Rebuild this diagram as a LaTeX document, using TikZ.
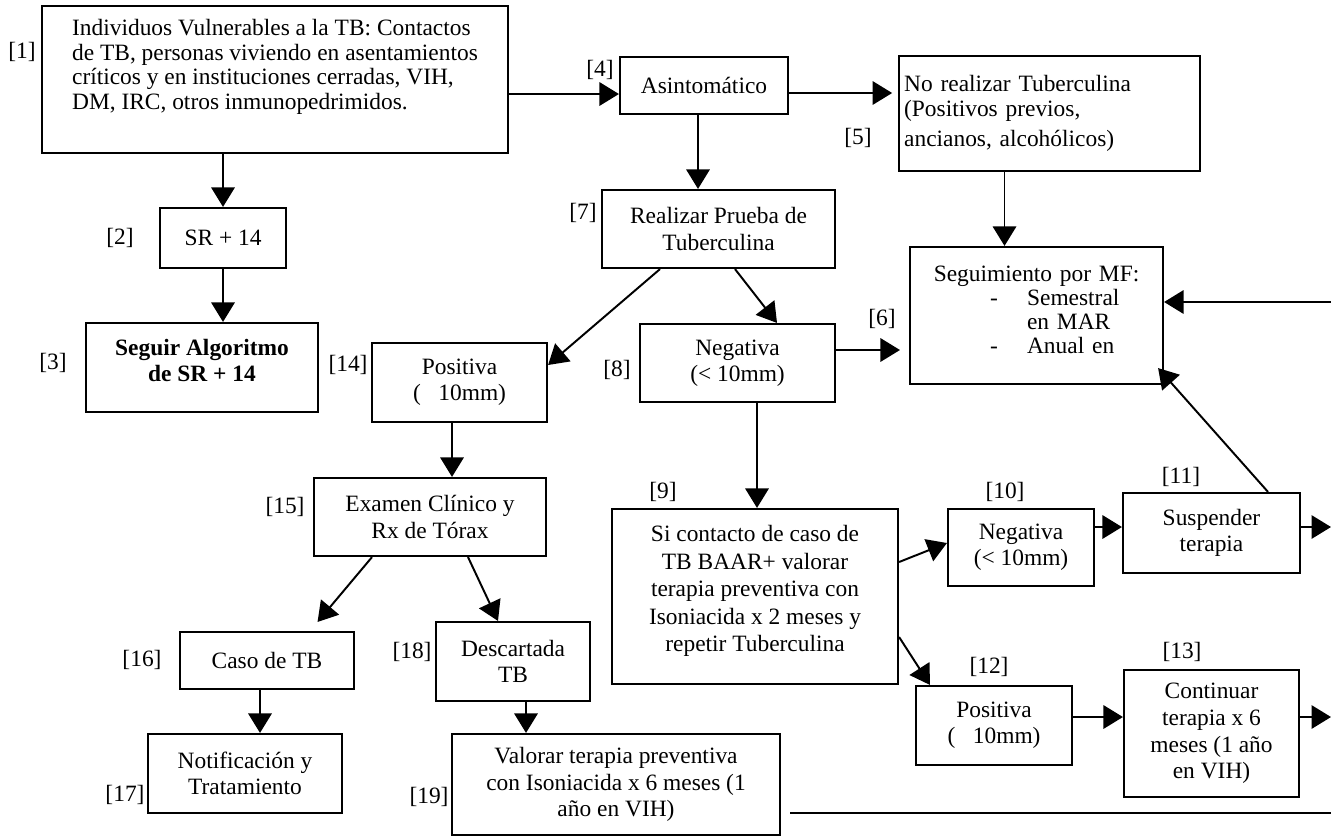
\documentclass[tikz,border=0pt]{standalone}
\usepackage{fontspec}
\setmainfont{Liberation Serif}
\usetikzlibrary{arrows.meta}
\def\pxu{0.5125pt}
\tikzset{
  box/.style={draw, line width=1.1pt, inner sep=0pt, align=center,
    font=\fontsize{12}{13.5}\selectfont},
  lab/.style={inner sep=0pt, font=\fontsize{12}{13.5}\selectfont},
  arr/.style={line width=1pt, -{Triangle[length=10pt,width=12pt]}},
  ln/.style={line width=1pt}
}
\begin{document}
\begin{tikzpicture}[x=0.5125pt, y=-0.5125pt]
\useasboundingbox (0,0) rectangle (1331,838);

% boxes
\node[box, align=left, minimum width=466*\pxu, minimum height=147*\pxu,
  font=\fontsize{12}{12.5}\selectfont] (n1) at (275,79.5)
  {Individuos Vulnerables a la TB: Contactos\\de TB, personas viviendo en asentamientos\\críticos y en instituciones cerradas, VIH,\\DM, IRC, otros inmunopedrimidos.\\[3pt]\mbox{}};
\node[box, minimum width=126*\pxu, minimum height=60*\pxu] (n2) at (223,238) {SR + 14};
\node[box, minimum width=232*\pxu, minimum height=89*\pxu] (n3) at (202,367.5)
  {\textbf{Seguir Algoritmo}\\\textbf{de SR + 14}\\[-6pt]\mbox{}};
\node[box, minimum width=168*\pxu, minimum height=57*\pxu] (n4) at (704,85.5) {Asintomático};
\node[box, align=left, text width=149pt, inner xsep=2.6pt, minimum height=115*\pxu,
  font=\fontsize{12}{12.8}\selectfont] (n5) at (1049.5,113.5)
  {No realizar Tuberculina\\(Positivos previos,\\[2.6pt]ancianos, alcohólicos)};
\node[box, align=left, text width=253*0.5125pt, minimum height=137*\pxu,
  font=\fontsize{12}{12.3}\selectfont] (n6) at (1036.5,315.5)
  {\makebox[129.7pt]{Seguimiento por MF:}\\
   \hspace*{41pt}\makebox[19pt][l]{-}Semestral\\
   \hspace*{60pt}en MAR\\
   \hspace*{41pt}\makebox[19pt][l]{-}Anual en\\[-6pt]\mbox{}};
\node[box, minimum width=233*\pxu, minimum height=78*\pxu] (n7) at (718.5,229)
  {Realizar Prueba de\\Tuberculina};
\node[box, minimum width=195*\pxu, minimum height=78*\pxu] (n8) at (737.5,363)
  {Negativa\\(< 10mm)};
\node[box, minimum width=286*\pxu, minimum height=175*\pxu,
  font=\fontsize{12}{14.1}\selectfont] (n9) at (755,596.5)
  {Si contacto de caso de\\TB BAAR+ valorar\\terapia preventiva con\\Isoniacida x 2 meses y\\repetir Tuberculina\\[-6pt]\mbox{}};
\node[box, minimum width=146*\pxu, minimum height=77*\pxu] (n10) at (1021,547.5)
  {Negativa\\(< 10mm)};
\node[box, minimum width=177*\pxu, minimum height=80*\pxu] (n11) at (1211.5,533)
  {Suspender\\terapia};
\node[box, minimum width=156*\pxu, minimum height=79*\pxu] (n12) at (994,725.5)
  {Positiva\\(\hspace{0.75em}10mm)};
\node[box, minimum width=175*\pxu, minimum height=127*\pxu,
  font=\fontsize{12}{13.7}\selectfont] (n13) at (1211.5,733.5)
  {Continuar\\terapia x 6\\meses (1 año\\en VIH)};
\node[box, minimum width=175*\pxu, minimum height=79*\pxu] (n14) at (459.5,382.5)
  {Positiva\\(\hspace{0.75em}10mm)};
\node[box, minimum width=232*\pxu, minimum height=78*\pxu] (n15) at (430,517)
  {Examen Clínico y\\Rx de Tórax};
\node[box, minimum width=174*\pxu, minimum height=57*\pxu] (n16) at (267,660.5)
  {Caso de TB};
\node[box, minimum width=194*\pxu, minimum height=79*\pxu] (n17) at (245,773.5)
  {Notificación y\\Tratamiento};
\node[box, minimum width=154*\pxu, minimum height=79*\pxu] (n18) at (513,661.5)
  {Descartada\\TB};
\node[box, minimum width=328*\pxu, minimum height=101*\pxu] (n19) at (616,784.5)
  {Valorar terapia preventiva\\con Isoniacida x 6 meses (1\\año en VIH)};

% labels
\node[lab] (l1) at (22,52) {[1]};
\node[lab] (l2) at (120,238) {[2]};
\node[lab] (l3) at (53,363) {[3]};
\node[lab] (l4) at (600,70) {[4]};
\node[lab] (l5) at (858,138) {[5]};
\node[lab] (l6) at (882,319) {[6]};
\node[lab] (l7) at (583,213) {[7]};
\node[lab] (l8) at (617,370) {[8]};
\node[lab] (l9) at (663,492) {[9]};
\node[lab] (l10) at (1005,492) {[10]};
\node[lab] (l11) at (1181,477) {[11]};
\node[lab] (l12) at (989,667) {[12]};
\node[lab] (l13) at (1182,652) {[13]};
\node[lab] (l14) at (348,365) {[14]};
\node[lab] (l15) at (285,507) {[15]};
\node[lab] (l16) at (142,660) {[16]};
\node[lab] (l17) at (125,795) {[17]};
\node[lab] (l18) at (412,652) {[18]};
\node[lab] (l19) at (429,797) {[19]};

% free ends on the right margin
\coordinate (R6) at (1331,302);
\coordinate (R11) at (1331,527);
\coordinate (R13) at (1331,717);
\coordinate (R19) at (1331,813);

% connectors
\draw[arr] ([yshift=-14.5*\pxu]n1.east) -- ([yshift=-14.5*\pxu]n1.east -| n4.west);
\draw[arr, shorten >=3pt] ([yshift=-7.5*\pxu]n4.east) -- ([yshift=-7.5*\pxu]n4.east -| n5.west);
\draw[arr] ([xshift=-6*\pxu]n4.south) -- ([xshift=-6*\pxu]n4.south |- n7.north);
\draw[arr] ([xshift=-45*\pxu]n5.south) -- ([xshift=-45*\pxu]n5.south |- n6.north);
\draw[arr] (R6) -- (R6 -| n6.east);
\draw[arr] ([xshift=56.5*\pxu]n11.north) -- ([xshift=-6*\pxu,yshift=17*\pxu]n6.south east);
\draw[arr] ([xshift=16.5*\pxu]n7.south) -- ([xshift=39.5*\pxu]n8.north);
\draw[arr] ([xshift=-58.5*\pxu]n7.south) -- ([yshift=17.5*\pxu]n14.east);
\draw[arr, shorten >=4.6pt] ([yshift=13*\pxu]n8.east) -- ([yshift=13*\pxu]n8.east -| n6.west);
\draw[arr] ([xshift=19.5*\pxu]n8.south) -- ([xshift=19.5*\pxu]n8.south |- n9.north);
\draw[arr] ([yshift=34.5*\pxu]n9.east) -- ([yshift=4.5*\pxu]n10.west);
\draw[arr] ([yshift=20.5*\pxu]n10.east) -- ([yshift=20.5*\pxu]n10.east -| n11.west);
\draw[arr] (R11 -| n11.east) -- (R11);
\draw[arr] ([yshift=-40.5*\pxu]n9.east) -- ([xshift=-64*\pxu]n12.north);
\draw[arr] ([yshift=8.5*\pxu]n12.east) -- ([yshift=8.5*\pxu]n12.east -| n13.west);
\draw[arr] (R13 -| n13.east) -- (R13);
\draw[ln, shorten <=4.6pt] (R19 -| n19.east) -- (R19);
\draw[arr] (n2.north |- n1.south) -- (n2.north);
\draw[arr] (n2.south) -- (n2.south |- n3.north);
\draw[arr] ([xshift=-7.5*\pxu]n14.south) -- ([xshift=-7.5*\pxu]n14.south |- n15.north);
\draw[arr, shorten >=6pt] ([xshift=-58*\pxu]n15.south) -- ([xshift=43*\pxu]n16.north);
\draw[arr] ([xshift=38*\pxu]n15.south) -- ([xshift=-15*\pxu]n18.north);
\draw[arr] ([xshift=-7*\pxu]n16.south) -- ([xshift=-7*\pxu]n16.south |- n17.north);
\draw[arr] ([xshift=13*\pxu]n18.south) -- ([xshift=13*\pxu]n18.south |- n19.north);
\end{tikzpicture}
\end{document}
